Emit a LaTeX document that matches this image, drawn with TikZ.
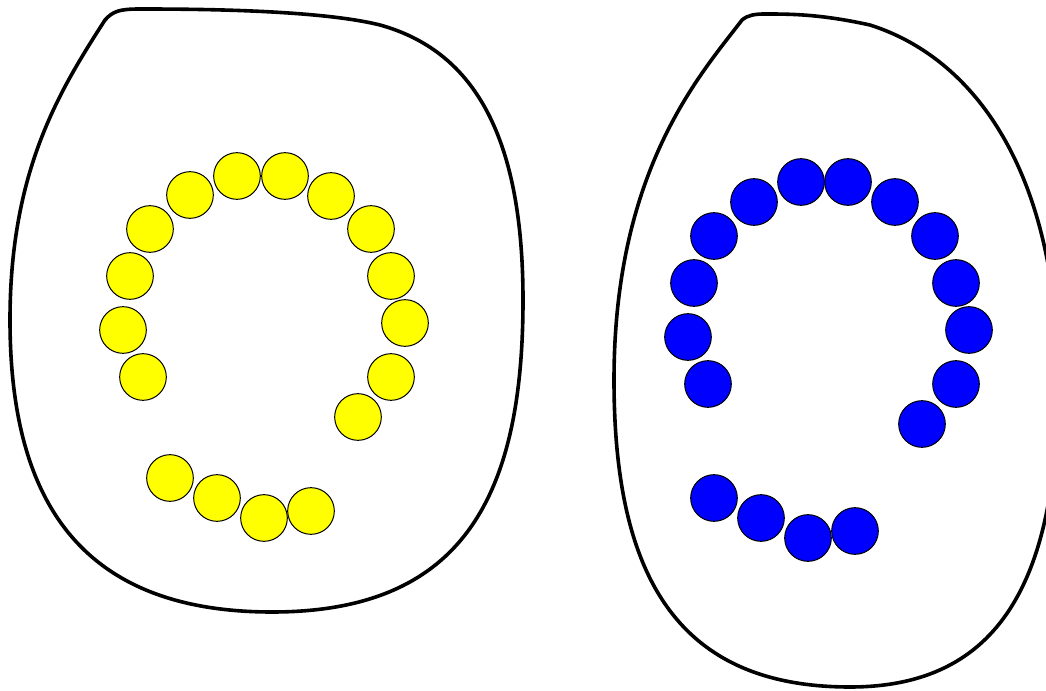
\documentclass[tikz,border=0pt]{standalone}
\usepackage{tikz}
\definecolor{amarelo}{RGB}{255,255,0}
\definecolor{azulpuro}{RGB}{0,0,255}

\begin{document}
\begin{tikzpicture}[
      x=0.75pt, y=-0.75pt,
      contorno/.style={draw=black, line width=2.7pt, line join=round},
      bola/.style={circle, draw=black, line width=0.75pt, inner sep=0pt, minimum size=35pt},
      amarela/.style={bola, fill=amarelo},
      azul/.style={bola, fill=azulpuro}]
    \useasboundingbox (0,0) rectangle (1046,691);
    % contornos
    \draw[contorno] (105,20) .. controls (60,90) and (10,170) .. (10,320)
      .. controls (10,500) and (80,612) .. (272,612)
      .. controls (460,612) and (523,500) .. (523,300)
      .. controls (523,130) and (470,50) .. (380,25)
      .. controls (320,10) and (200,9) .. (140,9)
      .. controls (120,9) and (113,11) .. (105,20) -- cycle;
    \draw[contorno] (742,20) .. controls (700,75) and (614,170) .. (614,380)
      .. controls (614,580) and (680,687) .. (850,687)
      .. controls (1000,687) and (1058,580) .. (1058,380)
      .. controls (1058,180) and (980,60) .. (870,25)
      .. controls (820,14) and (790,14) .. (765,14)
      .. controls (755,14) and (748,15) .. (742,20) -- cycle;
    % bolas amarelas
    \node[amarela] (a1) at (143,377) {};
    \node[amarela] (a2) at (123,330) {};
    \node[amarela] (a3) at (130,276) {};
    \node[amarela] (a4) at (150,229) {};
    \node[amarela] (a5) at (190,195) {};
    \node[amarela] (a6) at (237,176) {};
    \node[amarela] (a7) at (285,176) {};
    \node[amarela] (a8) at (331,196) {};
    \node[amarela] (a9) at (371,229) {};
    \node[amarela] (a10) at (391,276) {};
    \node[amarela] (a11) at (405,323) {};
    \node[amarela] (a12) at (391,377) {};
    \node[amarela] (a13) at (358,417) {};
    \node[amarela] (a14) at (170,478) {};
    \node[amarela] (a15) at (217,498) {};
    \node[amarela] (a16) at (264,518) {};
    \node[amarela] (a17) at (311,511) {};
    % bolas azuis
    \node[azul] (b1) at (708,384) {};
    \node[azul] (b2) at (688,337) {};
    \node[azul] (b3) at (694,283) {};
    \node[azul] (b4) at (714,236) {};
    \node[azul] (b5) at (754,202) {};
    \node[azul] (b6) at (801,182) {};
    \node[azul] (b7) at (848,182) {};
    \node[azul] (b8) at (895,202) {};
    \node[azul] (b9) at (935,236) {};
    \node[azul] (b10) at (956,283) {};
    \node[azul] (b11) at (969,330) {};
    \node[azul] (b12) at (956,384) {};
    \node[azul] (b13) at (922,424) {};
    \node[azul] (b14) at (714,498) {};
    \node[azul] (b15) at (761,518) {};
    \node[azul] (b16) at (808,538) {};
    \node[azul] (b17) at (855,531) {};
  \end{tikzpicture}
\end{document}
